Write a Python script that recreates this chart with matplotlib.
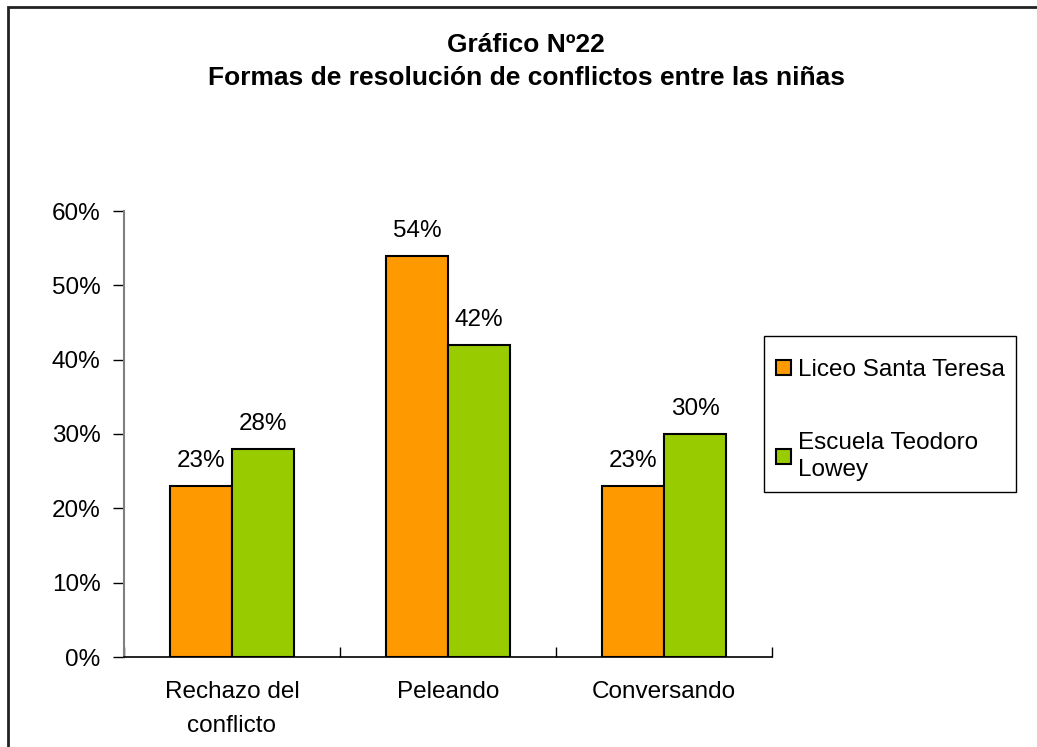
import matplotlib
matplotlib.use("Agg")
import matplotlib.pyplot as plt
import numpy as np
from matplotlib.patches import Rectangle, Patch

plt.rcParams['font.family'] = ['Liberation Sans', 'DejaVu Sans']

categories = ["Rechazo del\nconflicto", "Peleando", "Conversando"]
series_names = ["Liceo Santa Teresa", "Escuela Teodoro\nLowey"]
liceo = [0.23, 0.54, 0.23]
escuela = [0.28, 0.42, 0.30]
colors = ["#FF9900", "#99CC00"]
yticks = [0, 0.1, 0.2, 0.3, 0.4, 0.5, 0.6]
ytick_labels = ["0%", "10%", "20%", "30%", "40%", "50%", "60%"]

FS = 17.5
W, H = 1037, 747
fig = plt.figure(figsize=(W / 100, H / 100), dpi=100)
ax = fig.add_axes([124 / W, 1 - 657 / H, (772 - 124) / W, (657 - 211) / H])

x = np.arange(len(categories))
bw = 62 / 216
for i, (vals, col) in enumerate(zip([liceo, escuela], colors)):
    pos = x + (i - 0.5) * bw
    bars = ax.bar(pos, vals, width=bw, color=col, edgecolor="black", linewidth=1.5, zorder=3)
    for b, v in zip(bars, vals):
        ax.annotate(f"{round(v * 100)}%", (b.get_x() + b.get_width() / 2, v),
                    xytext=(0, 10), textcoords="offset points", ha="center", va="bottom",
                    fontsize=FS)

ax.set_xlim(-0.5, len(categories) - 0.5)
ax.set_ylim(0, 0.6)
ax.set_yticks(yticks)
ax.set_yticklabels(ytick_labels, fontsize=FS)
ax.set_xticks(x)
ax.set_xticklabels(categories, fontsize=FS, linespacing=1.75)
ax.tick_params(axis="x", length=0, pad=17)
ax.set_xticks(np.arange(len(categories) + 1) - 0.5, minor=True)
ax.tick_params(axis="x", which="minor", direction="in", length=7, width=1, color="black")
ax.tick_params(axis="y", direction="out", length=8, width=1, color="black", pad=9)

for s in ["top", "right"]:
    ax.spines[s].set_visible(False)
ax.spines["left"].set_color("#808080")
ax.spines["left"].set_linewidth(1.5)
ax.spines["bottom"].set_color("black")
ax.spines["bottom"].set_linewidth(1.2)

fig.text(526 / W, 1 - 45 / H, "Gráfico Nº22", ha="center", va="center", fontsize=19, fontweight="bold")
fig.text(526 / W, 1 - 78 / H, "Formas de resolución de conflictos entre las niñas",
         ha="center", va="center", fontsize=19, fontweight="bold")

# legend frame
fig.patches.append(Rectangle((764 / W, 1 - 492 / H), (1016 - 764) / W, (492 - 336) / H,
                             transform=fig.transFigure, fill=False, edgecolor="black",
                             linewidth=1, zorder=5))
handles = [Patch(facecolor=c, edgecolor="black", linewidth=1.5) for c in colors]
leg = fig.legend(handles, series_names, loc="upper left",
                 bbox_to_anchor=(764 / W, 1 - 347 / H), fontsize=FS, frameon=False,
                 handlelength=0.6, handleheight=0.6,
                 handletextpad=0.3, labelspacing=2.1, borderaxespad=0, borderpad=0.5)
for t in leg.get_texts():
    t.set_linespacing(1.3)

fig.patches.append(Rectangle((8 / W, -0.1), 1.2, (1 - 7 / H) + 0.1, transform=fig.transFigure,
                             fill=False, edgecolor="#222222", linewidth=2, zorder=10))

fig.savefig("out.png", dpi=100)
